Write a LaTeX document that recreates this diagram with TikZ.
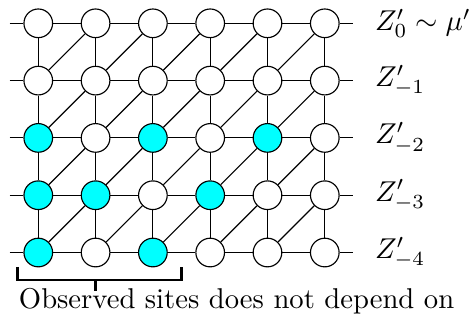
\documentclass[tikz,border=0pt]{standalone}
\usepackage{amsmath}
\usepackage{amssymb}
\usetikzlibrary{positioning}

\definecolor{obscyan}{RGB}{0,255,255}

\begin{document}
\begin{tikzpicture}[x=20pt,y=-20pt,
        free/.style={circle,draw,fill=white,minimum size=10pt,inner sep=0pt},
        seen/.style={free,fill=obscyan}]

  \useasboundingbox (-0.668,-0.407) rectangle (7.534,5.178);

  % sites, row by row
  \foreach \r/\row in {0/{free,free,free,free,free,free},
                       1/{free,free,free,free,free,free},
                       2/{seen,free,seen,free,seen,free},
                       3/{seen,seen,free,seen,free,free},
                       4/{seen,free,seen,free,free,free}}
    \foreach \kind [count=\c from 0] in \row
      \node[\kind] (s\c\r) at (\c,\r) {};

  % rows
  \foreach \r in {0,...,4} {
    \coordinate (l\r) at (-0.5,\r);
    \coordinate (e\r) at (5.5,\r);
    \draw (l\r) -- (s0\r) -- (s1\r) -- (s2\r) -- (s3\r) -- (s4\r) -- (s5\r) -- (e\r);
  }

  % columns
  \foreach \c in {0,...,5}
    \draw (s\c0) -- (s\c1) -- (s\c2) -- (s\c3) -- (s\c4);

  % diagonals
  \foreach \c/\d in {0/1,1/2,2/3,3/4,4/5}
    \foreach \r/\q in {1/0,2/1,3/2,4/3}
      \draw (s\c\r) -- (s\d\q);

  % labels
  \foreach \r/\lab in {0/{Z'_0\sim\mu'},1/{Z'_{-1}},2/{Z'_{-2}},3/{Z'_{-3}},4/{Z'_{-4}}}
    \node[right=4pt of e\r] (z\r) {$\lab$};

  % bracket
  \draw[line width=1pt] (-0.36,4.25) -- (-0.36,4.48) -- (2.5,4.48) -- (2.5,4.25);
  \draw[line width=1pt] (1,4.48) -- (1,4.68);
  \node[anchor=base west,inner sep=0pt] (note) at (-0.347,4.97) {Observed sites does not depend on};

\end{tikzpicture}
\end{document}
